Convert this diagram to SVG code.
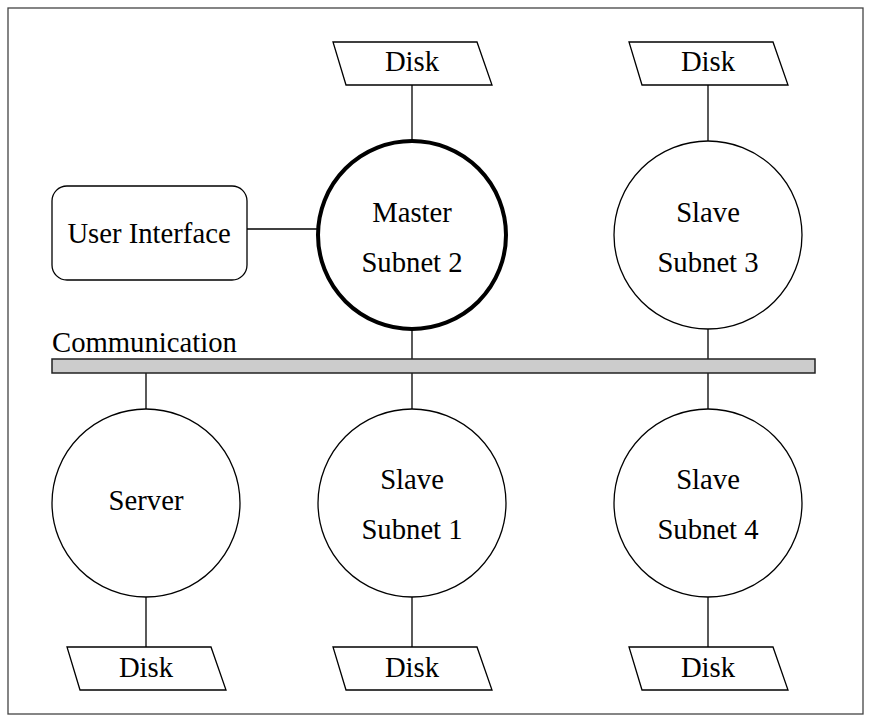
<svg xmlns="http://www.w3.org/2000/svg" width="871" height="722" viewBox="0 0 871 722">
<style>
text{font-family:'Liberation Serif','Times New Roman',serif;font-size:28.7px;fill:#000;text-anchor:middle}
.node{fill:#fff;stroke:#000;stroke-width:1.3}
.master{fill:#fff;stroke:#000;stroke-width:4}
.conn line{stroke:#000;stroke-width:1.3}
</style>
<rect x="8" y="8" width="855" height="706" fill="#fff" stroke="#444" stroke-width="1.3"/>
<g id="connectors" class="conn">
<line x1="412" y1="85" x2="412" y2="141"/>
<line x1="708" y1="85" x2="708" y2="141"/>
<line x1="247" y1="229" x2="318" y2="229"/>
<line x1="412" y1="329" x2="412" y2="359"/>
<line x1="708" y1="329" x2="708" y2="359"/>
<line x1="146" y1="373" x2="146" y2="409"/>
<line x1="412" y1="373" x2="412" y2="409"/>
<line x1="708" y1="373" x2="708" y2="409"/>
<line x1="146" y1="597" x2="146" y2="647"/>
<line x1="412" y1="597" x2="412" y2="647"/>
<line x1="708" y1="597" x2="708" y2="647"/>
</g>
<g id="bus">
<rect x="52" y="359" width="763" height="14" fill="#cccccc" stroke="#222" stroke-width="1.5"/>
<text x="52" y="352" style="text-anchor:start">Communication</text>
</g>
<g id="disk-master">
<polygon class="node" points="333,42 477,42 492,85 346,85"/>
<text x="412" y="71">Disk</text>
</g>
<g id="disk-slave3">
<polygon class="node" points="629,42 773,42 788,85 642,85"/>
<text x="708" y="71">Disk</text>
</g>
<g id="user-interface">
<rect class="node" x="52" y="186" width="195" height="94" rx="15" ry="15"/>
<text x="149" y="243">User Interface</text>
</g>
<g id="master-subnet2">
<circle class="master" cx="412" cy="235" r="94"/>
<text x="412" y="222">Master</text>
<text x="412" y="272">Subnet 2</text>
</g>
<g id="slave-subnet3">
<circle class="node" cx="708" cy="235" r="94"/>
<text x="708" y="222">Slave</text>
<text x="708" y="272">Subnet 3</text>
</g>
<g id="server">
<circle class="node" cx="146" cy="503" r="94"/>
<text x="146" y="510">Server</text>
</g>
<g id="slave-subnet1">
<circle class="node" cx="412" cy="503" r="94"/>
<text x="412" y="489">Slave</text>
<text x="412" y="539">Subnet 1</text>
</g>
<g id="slave-subnet4">
<circle class="node" cx="708" cy="503" r="94"/>
<text x="708" y="489">Slave</text>
<text x="708" y="539">Subnet 4</text>
</g>
<g id="disk-server">
<polygon class="node" points="67,647 211,647 226,690 80,690"/>
<text x="146" y="677">Disk</text>
</g>
<g id="disk-slave1">
<polygon class="node" points="333,647 477,647 492,690 346,690"/>
<text x="412" y="677">Disk</text>
</g>
<g id="disk-slave4">
<polygon class="node" points="629,647 773,647 788,690 642,690"/>
<text x="708" y="677">Disk</text>
</g>
</svg>
